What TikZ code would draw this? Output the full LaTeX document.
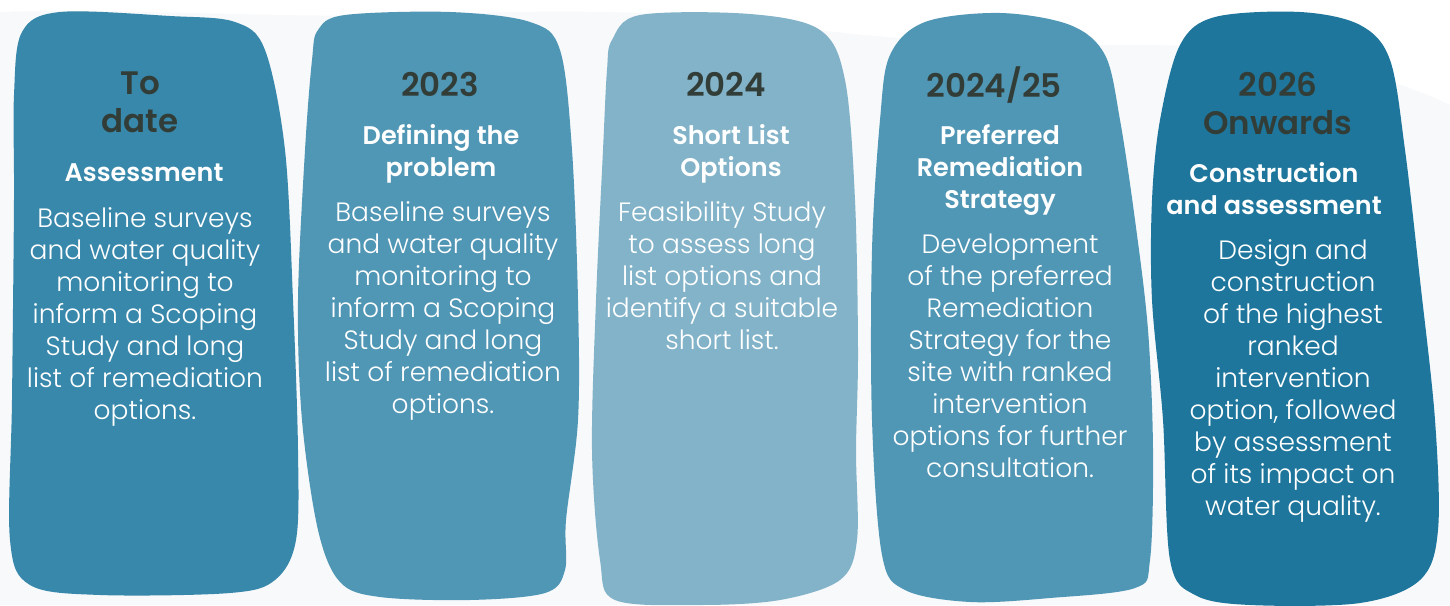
\documentclass[tikz,border=0pt]{standalone}
\usepackage{fontspec}
\setmainfont{Poppins}
\newfontfamily\headfont{Poppins}[UprightFont={* SemiBold}]
\newfontfamily\bodyfont{Poppins}[UprightFont={* Light}]
\definecolor{pagegrey}{HTML}{F7F9FB}
\definecolor{yeargrey}{HTML}{323D38}
\definecolor{phaseA}{HTML}{3888AB}
\definecolor{phaseB}{HTML}{5096B5}
\definecolor{phaseC}{HTML}{82B3C9}
\definecolor{phaseD}{HTML}{5096B5}
\definecolor{phaseE}{HTML}{1F769C}
\tikzset{
  yeartext/.style={inner sep=0pt,anchor=north,align=center,text=yeargrey,font=\headfont\fontsize{32.5}{38}\selectfont},
  titletext/.style={inner sep=0pt,anchor=north,align=center,text=white,font=\headfont\fontsize{25.5}{32}\selectfont},
  bodytext/.style={inner sep=0pt,anchor=north,align=center,text=white,font=\bodyfont\fontsize{26.5}{32}\selectfont}
}
\begin{document}
\begin{tikzpicture}[x=1pt,y=-1pt]
\useasboundingbox (0,0) rectangle (1450,605);

% Page and white swoosh along the top
\fill[pagegrey] (0,0) rectangle (1450,605);
\fill[white] (0,0) -- (1450,0) -- (1450,105)
  .. controls (1380,70) and (1250,45) .. (1150,45)
  .. controls (1000,45) and (900,42) .. (780,25)
  .. controls (700,14) and (600,8) .. (450,14)
  .. controls (300,20) and (150,8) .. (0,12) -- cycle;

% Macro for phase blob
\newcommand{\phaseblob}[2]{
    \fill[#1] plot[smooth cycle,tension=0.55] coordinates {#2};
}

% To date
\phaseblob{phaseA}{(14,95) (22,32) (60,12) (170,16) (235,22) (265,50) (285,150) (293,300)
    (298,450) (296,540) (275,580) (230,593) (100,595) (30,585) (10,540) (12,400) (14,200)}
\node[yeartext] (todate-year) at (140,72) {To\\date};
\node[titletext] (todate-title) at (144,163) {Assessment};
\node[bodytext] (todate-body) at (145,207) {Baseline surveys\\and water quality\\monitoring to\\inform a Scoping\\Study and long\\list of remediation\\options.};

% 2023
\phaseblob{phaseB}{(318,30) (345,15) (450,12) (530,22) (560,50) (572,150) (578,300) (578,420)
    (566,520) (565,570) (545,593) (470,600) (380,597) (340,582) (318,530)
    (302,420) (298,300) (305,150) (312,60)}
\node[yeartext] (first-year) at (440,72) {2023};
\node[titletext] (first-title) at (441,124) {Defining the\\problem};
\node[bodytext] (first-body) at (443,201) {Baseline surveys\\and water quality\\monitoring to\\inform a Scoping\\Study and long\\list of remediation\\options.};

% 2024
\phaseblob{phaseC}{(612,40) (640,15) (750,14) (820,30) (845,80) (855,200) (858,350) (856,450)
    (857,540) (840,580) (780,600) (700,605) (615,600) (600,560) (592,450)
    (596,300) (603,150) (607,70)}
\node[yeartext] (second-year) at (726,72) {2024};
\node[titletext] (second-title) at (731,124) {Short List\\Options};
\node[bodytext] (second-body) at (722,201) {Feasibility Study\\to assess long\\list options and\\identify a suitable\\short list.};

% 2024/25
\phaseblob{phaseD}{(880,120) (890,55) (925,22) (1000,13) (1070,25) (1105,55) (1120,120)
    (1135,220) (1148,330) (1153,450) (1150,560) (1135,588) (1050,598)
    (970,602) (905,590) (882,555) (872,420) (872,250)}
\node[yeartext] (third-year) at (994,67) {2024/25};
\node[titletext] (third-title) at (1000,124) {Preferred\\Remediation\\Strategy};
\node[bodytext] (third-body) at (1010,234) {Development\\of the preferred\\Remediation\\Strategy for the\\site with ranked\\intervention\\options for further\\consultation.};

% 2026 onwards
\phaseblob{phaseE}{(1160,120) (1180,45) (1215,17) (1300,12) (1360,25) (1390,60) (1405,150)
    (1420,280) (1435,420) (1438,530) (1420,580) (1360,603) (1250,605)
    (1195,595) (1170,560) (1163,420) (1152,300) (1152,200)}
\node[yeartext] (fourth-year) at (1278,72) {2026\\Onwards};
\node[titletext] (fourth-title) at (1274,162) {Construction\\and assessment};
\node[bodytext] (fourth-body) at (1293,239) {Design and\\construction\\of the highest\\ranked\\intervention\\option, followed\\by assessment\\of its impact on\\water quality.};

\end{tikzpicture}
\end{document}
